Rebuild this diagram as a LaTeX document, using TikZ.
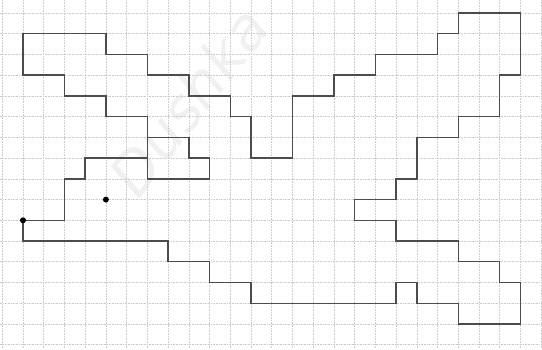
\documentclass[tikz,border=0pt]{standalone}
\usepackage{fontspec}
\setmainfont{DejaVu Sans}
\begin{document}
\begin{tikzpicture}[x=1pt,y=1pt,
  gridline/.style={gray!40,densely dotted,line width=0.6pt},
  figline/.style={black!70,line width=1.4pt,line join=miter},
  dotmark/.style={circle,fill=black,inner sep=0pt,minimum size=6pt},
  watermark/.style={text=gray!12,font=\fontsize{58}{58}\selectfont\itshape,rotate=52}]
\useasboundingbox (0,0) rectangle (542,349);
\fill[white] (0,0) rectangle (542,349);
\begin{scope}
\clip (0,0) rectangle (542,349);
\node[watermark] (wm) at (188,248) {Dushka};
\end{scope}
\begin{scope}[shift={(23,336)},x=20.73pt,y=-20.73pt]
  \clip (-1.2,-0.7) rectangle (25.1,16.2);
  \foreach \i in {-1,...,25} \draw[gridline] (\i,-0.7) -- (\i,16.2);
  \foreach \j in {0,...,16} \draw[gridline] (-1.2,\j) -- (25.1,\j);
\end{scope}
\begin{scope}[shift={(23,336)},x=20.73pt,y=-20.73pt]
  \draw[figline] (0,10) -- (2,10) -- (2,8) -- (3,8) -- (3,7) -- (6,7) -- (6,8)
    -- (9,8) -- (9,7) -- (8,7) -- (8,6) -- (6,6) -- (6,5) -- (4,5) -- (4,4)
    -- (2,4) -- (2,3) -- (0,3) -- (0,1) -- (4,1) -- (4,2) -- (6,2) -- (6,3)
    -- (8,3) -- (8,4) -- (10,4) -- (10,5) -- (11,5) -- (11,7) -- (13,7)
    -- (13,4) -- (15,4) -- (15,3) -- (17,3) -- (17,2) -- (20,2) -- (20,1)
    -- (21,1) -- (21,0) -- (24,0) -- (24,3) -- (23,3) -- (23,5) -- (21,5)
    -- (21,6) -- (19,6) -- (19,8) -- (18,8) -- (18,9) -- (16,9) -- (16,10)
    -- (18,10) -- (18,11) -- (21,11) -- (21,12) -- (23,12) -- (23,13)
    -- (24,13) -- (24,15) -- (21,15) -- (21,14) -- (19,14) -- (19,13)
    -- (18,13) -- (18,14) -- (11,14) -- (11,13) -- (9,13) -- (9,12)
    -- (7,12) -- (7,11) -- (0,11) -- cycle;
  \draw[figline] (6,6) -- (6,7);
  \node[dotmark] (start) at (0,10) {};
  \node[dotmark] (eye) at (4,9) {};
\end{scope}
\end{tikzpicture}
\end{document}
